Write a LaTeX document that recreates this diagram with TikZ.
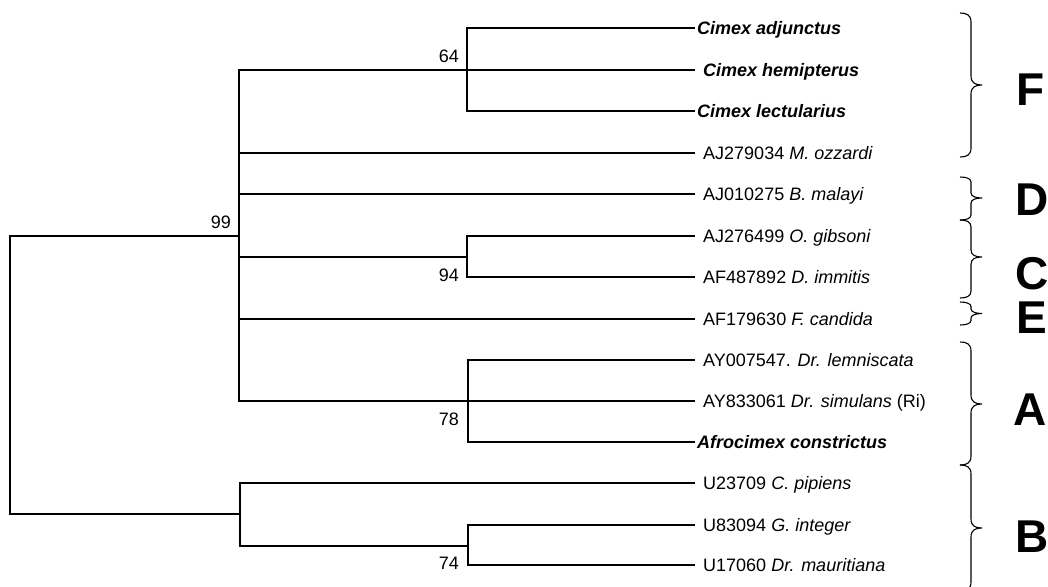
\documentclass[tikz,border=0pt]{standalone}
\usepackage{fontspec}
\setmainfont{Liberation Sans}
\newcommand\cladebrace[4]{%
  \draw[bracestyle] (960,#1) .. controls (966,#1) and (971,#1+1.5) .. (971,#1+#4)
    -- (971,#2-#4) .. controls (971,#2-1.5) and (976,#2) .. (982,#2)
    .. controls (976,#2) and (971,#2+1.5) .. (971,#2+#4)
    -- (971,#3-#4) .. controls (971,#3-1.5) and (966,#3) .. (960,#3);}
\begin{document}
\begin{tikzpicture}[x=1pt,y=-1pt,
  branch/.style={line width=1.4pt},
  bracestyle/.style={line width=1.1pt},
  tip/.style={anchor=base west, inner sep=0pt, font=\fontsize{18}{20}\selectfont},
  tipb/.style={anchor=base west, inner sep=0pt, font=\fontsize{18}{20}\selectfont\bfseries\itshape},
  boot/.style={anchor=base east, inner sep=0pt, font=\fontsize{18}{20}\selectfont},
  clade/.style={anchor=base west, inner sep=0pt, font=\fontsize{46}{50}\selectfont\bfseries}]
\useasboundingbox (0,0) rectangle (1048,586);
\begin{scope}
\clip (0,0) rectangle (1048,586);
% tip ends
\coordinate (t1) at (695,28);
\coordinate (t2) at (695,70);
\coordinate (t3) at (695,111);
\coordinate (t4) at (695,153);
\coordinate (t5) at (695,194);
\coordinate (t6) at (695,236);
\coordinate (t7) at (695,277);
\coordinate (t8) at (695,319);
\coordinate (t9) at (695,360);
\coordinate (t10) at (695,401);
\coordinate (t11) at (695,442);
\coordinate (t12) at (695,483);
\coordinate (t13) at (695,525);
\coordinate (t14) at (695,565);
% internal nodes
\coordinate (root) at (10,375);
\coordinate (nI) at (239,236);
\coordinate (nB) at (240,514);
\coordinate (nF) at (467,70);
\coordinate (nC) at (467,257);
\coordinate (nA) at (468,401);
\coordinate (n74) at (468,546);
% branches
\draw[branch] (root) |- (nI);
\draw[branch] (root) |- (nB);
\draw[branch] (nI) |- (nF);
\draw[branch] (nI) |- (t4);
\draw[branch] (nI) |- (t5);
\draw[branch] (nI) |- (nC);
\draw[branch] (nI) |- (t8);
\draw[branch] (nI) |- (nA);
\draw[branch] (nF) |- (t1);
\draw[branch] (nF) |- (t2);
\draw[branch] (nF) |- (t3);
\draw[branch] (nC) |- (t6);
\draw[branch] (nC) |- (t7);
\draw[branch] (nA) |- (t9);
\draw[branch] (nA) |- (t10);
\draw[branch] (nA) |- (t11);
\draw[branch] (nB) |- (t12);
\draw[branch] (nB) |- (n74);
\draw[branch] (n74) |- (t13);
\draw[branch] (n74) |- (t14);
% tip labels
\node[tipb] (L1) at (697,34.5) {Cimex adjunctus};
\node[tipb] (L2) at (703,76.5) {Cimex hemipterus};
\node[tipb] (L3) at (697,117.5) {Cimex lectularius};
\node[tip] (L4) at (703,159.5) {AJ279034 \textit{M. ozzardi}};
\node[tip] (L5) at (703,200.5) {AJ010275 \textit{B. malayi}};
\node[tip] (L6) at (703,242.5) {AJ276499 \textit{O. gibsoni}};
\node[tip] (L7) at (703,283.5) {AF487892 \textit{D. immitis}};
\node[tip] (L8) at (703,325.5) {AF179630 \textit{F. candida}};
\node[tip] (L9) at (703,366.5) {AY007547. \textit{Dr. lemniscata}};
\node[tip] (L10) at (703,407.5) {AY833061 \textit{Dr. simulans} (Ri)};
\node[tipb] (L11) at (697,448.5) {Afrocimex constrictus};
\node[tip] (L12) at (703,489.5) {U23709 \textit{C. pipiens}};
\node[tip] (L13) at (703,531.5) {U83094 \textit{G. integer}};
\node[tip] (L14) at (703,571.5) {U17060 \textit{Dr. mauritiana}};
% bootstrap values
\node[boot] (b64) at (459,62.5) {64};
\node[boot] (b99) at (231,228) {99};
\node[boot] (b94) at (459,281) {94};
\node[boot] (b78) at (459,425) {78};
\node[boot] (b74) at (459,569) {74};
% braces
\cladebrace{13}{85}{157}{9}
\cladebrace{177}{198}{220}{5}
\cladebrace{220}{257}{298}{7}
\cladebrace{302}{313.5}{325}{4.5}
\cladebrace{342}{404}{465}{9}
\cladebrace{465}{528}{591}{9}
\end{scope}
% clade letters
\node[clade] (cF) at (1016,105) {F};
\node[clade] (cD) at (1015,215) {D};
\node[clade] (cC) at (1015,289) {C};
\node[clade] (cE) at (1016,333) {E};
\node[clade] (cA) at (1013,425) {A};
\node[clade] (cB) at (1015,552) {B};
\end{tikzpicture}
\end{document}
